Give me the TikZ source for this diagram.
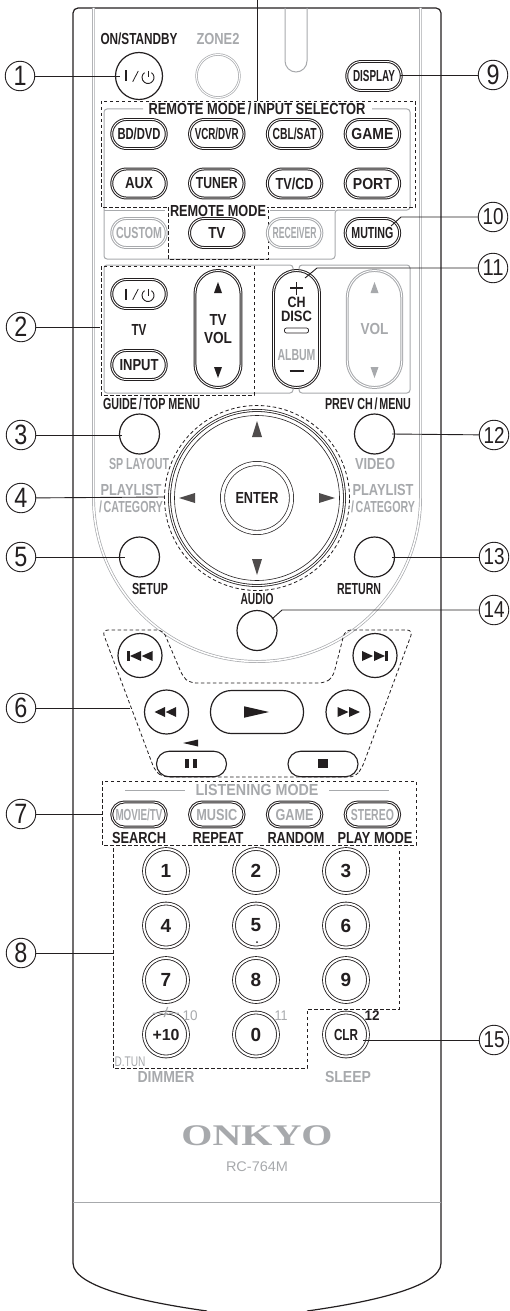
\documentclass[tikz,border=0pt]{standalone}
\usepackage{fontspec}
\setmainfont{Liberation Sans}
\newfontfamily\logofont{Liberation Serif}
\usetikzlibrary{positioning}
\definecolor{Ink}{RGB}{35,31,32}
\definecolor{Haze}{RGB}{167,169,172}
\newcommand{\tw}[2]{\resizebox{#1pt}{\height}{#2}}
\newcommand{\wedgeh}[5][Ink]{\fill[#1] (#2,#3) -- +(#4,-#5/2) -- +(#4,#5/2) -- cycle;}
\newcommand{\wedgev}[5][Ink]{\fill[#1] (#2,#3) -- +(-#5/2,#4) -- +(#5/2,#4) -- cycle;}
\newcommand{\powersym}[2]{
  \draw[Ink,line width=1.1pt] (#1-13,#2-5.5) -- +(0,11);
  \draw[Ink,line width=.8pt] (#1-6.3,#2+5.7) -- +(5.6,-10.7);
  \draw[Ink,line width=.9pt] (#1+9,#2+1.5)+(-55:6) arc[start angle=-55,end angle=235,radius=6];
  \draw[Ink,line width=.9pt] (#1+9,#2-5) -- +(0,6.5);
}
\tikzset{
  pill/.style={draw=Ink,double=white,double distance=.9pt,line width=1pt,fill=white,
    minimum width=54.5pt,minimum height=29pt,rounded corners=14.5pt,inner sep=0pt,
    outer sep=0pt,text=Ink,font=\bfseries\fontsize{16}{16}\selectfont},
  ghostpill/.style={pill,draw=Haze,text=Haze},
  modepill/.style={pill,minimum height=25pt,rounded corners=12.5pt,text=Haze},
  tallpill/.style={pill,minimum width=46pt,minimum height=117pt,rounded corners=23pt},
  longpill/.style={draw=Ink,line width=1.1pt,fill=white,minimum height=25.5pt,
    rounded corners=12.7pt,minimum width=70pt,inner sep=0pt,outer sep=0pt},
  roundkey/.style={circle,draw=Ink,line width=1.2pt,fill=white,minimum size=40pt,
    inner sep=0pt,outer sep=0pt},
  digitkey/.style={circle,draw=Ink,double=white,double distance=2pt,line width=.85pt,
    fill=white,minimum size=44pt,inner sep=0pt,outer sep=0pt,text=Ink,
    font=\bfseries\fontsize{19}{19}\selectfont},
  callout/.style={circle,draw=Ink,line width=.9pt,fill=white,minimum size=29.5pt,
    inner sep=0pt,outer sep=0pt,text=Ink,font=\fontsize{28}{28}\selectfont},
  twocall/.style={callout,font=\fontsize{23}{23}\selectfont},
  caption/.style={inner sep=0pt,text=Ink,font=\bfseries\fontsize{16}{16}\selectfont},
  ghostcap/.style={caption,text=Haze},
  tinycap/.style={caption,font=\fontsize{14}{14}\selectfont},
  shell/.style={draw=Ink,line width=1.2pt},
  rib/.style={draw=Haze,line width=1pt},
  zone/.style={draw=Ink,line width=.8pt,dash pattern=on 3.5pt off 2.5pt},
  leader/.style={draw=Ink,line width=.9pt}
}
\begin{document}
\begin{tikzpicture}[x=1pt,y=-1pt,node distance=20.5pt and 23.3pt]
  \useasboundingbox (0,0) rectangle (510,1311);
  \draw[shell,rounded corners=5pt] (73,1263) -- (73,8) -- (441,8) -- (441,1263);
  \draw[shell] (73,1263) .. controls (73,1288) and (150,1303) .. (207,1311);
  \draw[shell] (441,1263) .. controls (441,1288) and (364,1303) .. (307,1311);
  \draw[rib,double=white,double distance=1.5pt,line width=.7pt] (93.5,8) -- (93.5,498)
    arc[start angle=180,end angle=0,radius=163.5] -- (420.5,8);
  \draw[rib] (73,1202) -- (441,1202);
  \draw[rib] (285,8) -- (285,61) arc[start angle=180,end angle=0,radius=11] -- (307,8);
  \draw[rib,rounded corners=3pt] (143,109) -- (104,109) -- (104,259) -- (335,259)
    -- (335,210) -- (410,210) -- (410,109) -- (372,109);
  \draw[rib] (104,210) -- (165,210);
  \draw[rib] (270,210) -- (335,210);
  \draw[rib,rounded corners=3pt] (293,269) -- (293,265) -- (104,265) -- (104,393)
    -- (293,393) -- (293,389);
  \draw[rib,rounded corners=3pt] (299,269) -- (299,265) -- (410,265) -- (410,393)
    -- (299,393) -- (299,389);
  \draw[rib] (125,790) -- (185,790);
  \draw[rib] (329,790) -- (389,790);
  \draw[zone] (101,101) rectangle (415,207);
  \draw[zone] (168,207) rectangle (268,259);
  \draw[zone] (101,266) rectangle (254,395);
  \draw[zone] (102,781) rectangle (416,845);
  \draw[zone] (113,848) -- (113,1068) -- (307,1068) -- (307,1009) -- (399,1009) -- (399,848);
  \draw[zone,rounded corners=6pt] (163,630) -- (102,630) -- (155,771) -- (163,777)
    -- (355,777) -- (362,768) -- (413,630) -- (345,630) -- (333,677) -- (325,683)
    -- (190,683) -- (183,677) -- cycle;

  \node[caption] (onlabel) at (139,39) {\tw{77}{ON/STANDBY}};
  \node[ghostcap] (zonelabel) at (218,39) {\tw{43}{ZONE2}};
  \node[roundkey,minimum size=47pt] (onkey) at (139,76) {};
  \node[roundkey,draw=Haze,double=white,double distance=1pt,line width=.7pt,
    minimum size=43pt] (zonekey) at (218,76) {};
  \node[pill] (display) at (374,76) {\tw{42}{DISPLAY}};
  \node[caption,fill=white,inner xsep=2pt] (sellabel) at (257,109)
    {\tw{217}{REMOTE MODE\,/\,INPUT SELECTOR}};
  \node[pill] (bd) at (139,134) {\tw{43}{BD/DVD}};
  \node[pill,right=of bd] (vcr) {\tw{44}{VCR/DVR}};
  \node[pill,right=of vcr] (cbl) {\tw{44}{CBL/SAT}};
  \node[pill,right=of cbl] (game) {\tw{42}{GAME}};
  \node[pill,below=of bd] (aux) {\tw{28}{AUX}};
  \node[pill,right=of aux] (tuner) {\tw{42}{TUNER}};
  \node[pill,right=of tuner] (tvcd) {\tw{38}{TV/CD}};
  \node[pill,right=of tvcd] (port) {\tw{39}{PORT}};
  \node[caption,fill=white,inner xsep=1pt] (modelabel) at (218,211) {\tw{96}{REMOTE MODE}};
  \node[ghostpill,below=of aux] (custom) {\tw{46}{CUSTOM}};
  \node[pill,right=of custom] (tvmode) {\tw{17}{TV}};
  \node[ghostpill,right=of tvmode] (receiver) {\tw{44}{RECEIVER}};
  \node[pill,right=of receiver] (muting) {\tw{42}{MUTING}};
  \node[pill] (tvpower) at (139,294) {};
  \node[caption] (tvlabel) at (139,330) {\tw{15}{TV}};
  \node[pill] (input) at (139,365) {\tw{39}{INPUT}};
  \node[tallpill,align=center] (tvvol) at (218,329) {\tw{17}{TV}\\[2pt]\tw{28}{VOL}};
  \node[tallpill] (chkey) at (296.5,329) {};
  \node[tallpill,draw=Haze,text=Haze,minimum width=54.5pt,rounded corners=27pt] (volkey)
    at (374.5,329) {\tw{28}{VOL}};
  \node[caption,font=\bfseries\fontsize{15}{15}\selectfont] (chlabel) at (296.5,302.5) {\tw{18}{CH}};
  \node[caption,font=\bfseries\fontsize{15}{15}\selectfont] (disclabel) at (296.5,316.5) {\tw{31}{DISC}};
  \node[draw=Ink,line width=.7pt,rounded corners=2pt,minimum width=24pt,minimum height=5pt,
    inner sep=0pt] (chbar) at (296.5,330.5) {};
  \node[ghostcap] (albumlabel) at (296.5,355) {\tw{38}{ALBUM}};
  \draw[Ink,line width=1.7pt] (296.5,282) -- (296.5,294.5);
  \draw[Ink,line width=1.7pt] (290,288) -- (303,288);
  \draw[Ink,line width=1.8pt] (289.5,371) -- (304,371);
  \wedgev{218}{282}{11}{8}
  \wedgev{218}{378}{-11}{8}
  \wedgev[Haze]{374.5}{282}{11}{8}
  \wedgev[Haze]{374.5}{378}{-11}{8}

  \node[caption] (guidelabel) at (151.5,404) {\tw{97}{GUIDE\,/\,TOP MENU}};
  \node[caption] (prevlabel) at (368,404) {\tw{86}{PREV CH\,/\,MENU}};
  \node[roundkey] (guide) at (139.5,434) {};
  \node[roundkey] (prev) at (374.5,434) {};
  \node[ghostcap] (splabel) at (139,464) {\tw{60}{SP LAYOUT}};
  \node[ghostcap] (videolabel) at (375,464) {\tw{40}{VIDEO}};
  \node[ghostcap] (listl) at (131,490) {\tw{61}{PLAYLIST}};
  \node[ghostcap] (catl) at (131,507) {\tw{64}{/\,CATEGORY}};
  \node[ghostcap] (listr) at (383,490) {\tw{61}{PLAYLIST}};
  \node[ghostcap] (catr) at (383,507) {\tw{64}{/\,CATEGORY}};
  \node[circle,zone,minimum size=185pt,inner sep=0pt] (navdash) at (257,498) {};
  \node[circle,draw=Ink,double=white,double distance=1.2pt,line width=.8pt,fill=white,
    minimum size=175pt,inner sep=0pt] (navring) at (257,498) {};
  \node[circle,draw=Ink,line width=.6pt,minimum size=165pt,inner sep=0pt] (navpad) at (257,498) {};
  \node[circle,draw=Ink,double=white,double distance=3.5pt,line width=.7pt,fill=white,
    minimum size=69pt,inner sep=0pt,text=Ink,font=\bfseries\fontsize{16}{16}\selectfont]
    (enter) at (257,498) {\tw{43}{ENTER}};
  \wedgev[Ink!80]{257}{421}{16}{10}
  \wedgev[Ink!80]{257}{575}{-16}{10}
  \wedgeh[Ink!80]{179}{498}{16}{10}
  \wedgeh[Ink!80]{335}{498}{-16}{10}
  \node[roundkey] (setup) at (139.5,557) {};
  \node[roundkey] (return) at (374.5,557) {};
  \node[caption] (setuplabel) at (150,589) {\tw{36}{SETUP}};
  \node[caption] (returnlabel) at (359,589) {\tw{44}{RETURN}};
  \node[caption] (audiolabel) at (257,599) {\tw{33}{AUDIO}};
  \node[roundkey] (audio) at (257,630.5) {};

  \node[roundkey,minimum size=44pt] (skipb) at (140,655.5) {};
  \node[roundkey,minimum size=44pt] (skipf) at (375,655.5) {};
  \node[roundkey,minimum size=44pt] (rew) at (166.5,712) {};
  \node[roundkey,minimum size=44pt] (fwd) at (348,712) {};
  \node[roundkey,rounded corners=21pt,rectangle,minimum width=93pt,minimum height=43pt]
    (play) at (257,712) {};
  \node[longpill] (pause) at (191.5,764) {};
  \node[longpill] (stop) at (323,764) {};
  \fill[Ink] (127,651) rectangle (130,661);
  \wedgeh{130}{656}{11}{10}
  \wedgeh{141.7}{656}{11}{10}
  \wedgeh{373}{656}{-11}{10}
  \wedgeh{385}{656}{-11}{10}
  \fill[Ink] (385,651) rectangle (388,661);
  \wedgeh{154.5}{712}{10.5}{10}
  \wedgeh{165.7}{712}{10.5}{10}
  \wedgeh{348.5}{712}{-11}{10}
  \wedgeh{360}{712}{-11}{10}
  \wedgeh{269}{712}{-25}{11.5}
  \wedgeh{183}{743}{15}{7}
  \fill[Ink] (185,759) rectangle (189.3,768);
  \fill[Ink] (192.7,759) rectangle (197.3,768);
  \fill[Ink] (318,759) rectangle (328,768);

  \node[ghostcap] (listenlabel) at (257,790) {\tw{123}{LISTENING MODE}};
  \node[modepill] (movie) at (139,814.5) {\tw{47}{MOVIE/TV}};
  \node[modepill,right=of movie] (music) {\tw{41}{MUSIC}};
  \node[modepill,right=of music] (gamemode) {\tw{38}{GAME}};
  \node[modepill,right=of gamemode] (stereo) {\tw{43}{STEREO}};
  \node[caption] (searchlabel) at (139,838) {\tw{54}{SEARCH}};
  \node[caption] (repeatlabel) at (218,838) {\tw{51}{REPEAT}};
  \node[caption] (randomlabel) at (296,838) {\tw{57}{RANDOM}};
  \node[caption] (playmode) at (375,838) {\tw{75}{PLAY MODE}};

  \node[digitkey] (n1) at (166,871) {1};
  \node[digitkey,right=46pt of n1] (n2) {2};
  \node[digitkey,right=46pt of n2] (n3) {3};
  \node[digitkey,below=10.5pt of n1] (n4) {4};
  \node[digitkey,right=46pt of n4] (n5) {5};
  \node[digitkey,right=46pt of n5] (n6) {6};
  \node[digitkey,below=10.5pt of n4] (n7) {7};
  \node[digitkey,right=46pt of n7] (n8) {8};
  \node[digitkey,right=46pt of n8] (n9) {9};
  \node[digitkey,below=10.5pt of n7,font=\bfseries\fontsize{16}{16}\selectfont] (plusten) {\tw{27}{+10}};
  \node[digitkey,right=46pt of plusten] (n0) {0};
  \node[digitkey,right=46pt of n0,font=\bfseries\fontsize{16}{16}\selectfont] (clr) {\tw{24}{CLR}};
  \fill[Ink] (257,942) circle (1pt);
  \node[tinycap,text=Haze] (dashlabel) at (166,1012) {\tw{28}{-{}-/-{}-}};
  \node[tinycap,text=Haze] (tenlabel) at (190,1016) {\tw{15}{10}};
  \node[tinycap,text=Haze] (elevenlabel) at (281,1016) {\tw{13}{11}};
  \node[caption,font=\bfseries\fontsize{14}{14}\selectfont] (twelvelabel) at (372,1016) {\tw{15}{12}};
  \node[tinycap,text=Haze] (dtun) at (130,1062) {\tw{31}{D.TUN}};
  \node[ghostcap] (dimmer) at (166,1077) {\tw{57}{DIMMER}};
  \node[ghostcap] (sleep) at (348,1077) {\tw{46}{SLEEP}};
  \node[inner sep=0pt,text=Haze,font=\logofont\bfseries\fontsize{30}{30}\selectfont] (brand)
    at (257,1136) {\tw{151}{ONKYO}};
  \node[tinycap,text=Haze] (model) at (257,1167) {\tw{62}{RC-764M}};

  \powersym{139}{76}
  \powersym{139}{294}

  \node[callout] (c1) at (20,76) {\tw{13}{1}};
  \node[callout] (c2) at (21,327) {\tw{13}{2}};
  \node[callout] (c3) at (21,435) {\tw{13}{3}};
  \node[callout] (c4) at (21,498) {\tw{13}{4}};
  \node[callout] (c5) at (21,557) {\tw{13}{5}};
  \node[callout] (c6) at (21,708) {\tw{13}{6}};
  \node[callout] (c7) at (21,814) {\tw{13}{7}};
  \node[callout] (c8) at (21,953) {\tw{13}{8}};
  \node[callout] (c9) at (493,75) {\tw{13}{9}};
  \node[twocall] (c10) at (493,217) {\tw{21}{10}};
  \node[twocall] (c11) at (493,268) {\tw{21}{11}};
  \node[twocall] (c12) at (494,435) {\tw{21}{12}};
  \node[twocall] (c13) at (494,557) {\tw{21}{13}};
  \node[twocall] (c14) at (494,610) {\tw{21}{14}};
  \node[twocall] (c15) at (494,1040) {\tw{21}{15}};
  \coordinate (top) at (257,0);
  \coordinate (e1) at (120,76);
  \coordinate (e2) at (100,327);
  \coordinate (e3) at (122,435);
  \coordinate (e4) at (164,497);
  \coordinate (e5) at (125,557);
  \coordinate (e6) at (130,708);
  \coordinate (e7) at (102,814);
  \coordinate (e8) at (113,953);
  \coordinate (e9) at (400,75);
  \coordinate (k10) at (401,217);
  \coordinate (e10) at (391,226);
  \coordinate (k11) at (317,268);
  \coordinate (e11) at (305,278);
  \coordinate (e12) at (392,434);
  \coordinate (e13) at (392,557);
  \coordinate (k14) at (282,610);
  \coordinate (e14) at (272,619);
  \coordinate (e15) at (363,1040);
  \coordinate (e0) at (257,101);
  \draw[leader] (top) -- (e0);
  \draw[leader] (c1) -- (e1);
  \draw[leader] (c2) -- (e2);
  \draw[leader] (c3) -- (e3);
  \draw[leader] (c4) -- (e4);
  \draw[leader] (c5) -- (e5);
  \draw[leader] (c6) -- (e6);
  \draw[leader] (c7) -- (e7);
  \draw[leader] (c8) -- (e8);
  \draw[leader] (c9) -- (e9);
  \draw[leader] (c10) -- (k10) -- (e10);
  \draw[leader] (c11) -- (k11) -- (e11);
  \draw[leader] (c12) -- (e12);
  \draw[leader] (c13) -- (e13);
  \draw[leader] (c14) -- (k14) -- (e14);
  \draw[leader] (c15) -- (e15);
\end{tikzpicture}
\end{document}
